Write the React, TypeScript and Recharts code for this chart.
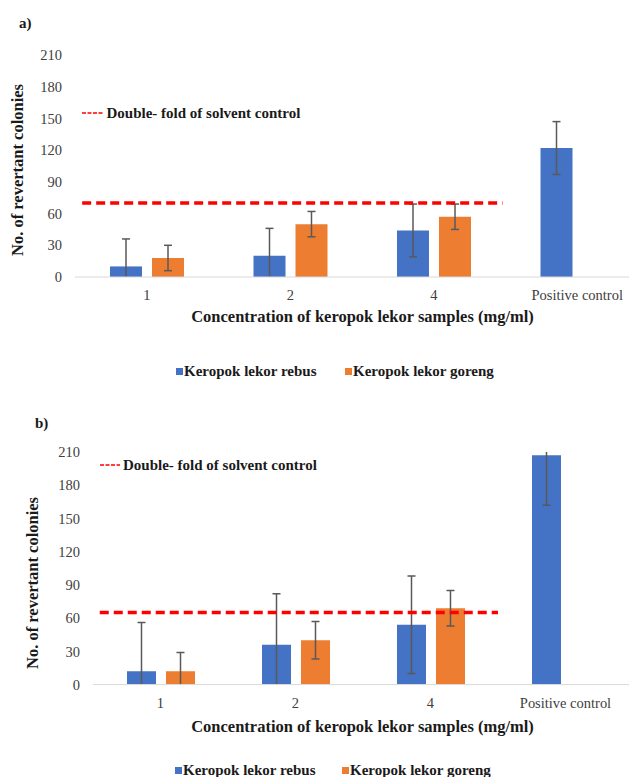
import React from 'react';
import { BarChart, Bar, XAxis, YAxis, ErrorBar, ReferenceLine } from 'recharts';

// ---------- data ----------
const categories = ['1', '2', '4', 'Positive control'];
const yTicks = [0, 30, 60, 90, 120, 150, 180, 210];
const seriesNames = ['Keropok lekor rebus', 'Keropok lekor goreng'];
const thresholdLabel = 'Double- fold of solvent control';
const xTitle = 'Concentration of keropok lekor samples (mg/ml)';
const yTitle = 'No. of revertant colonies';

// panel a)
const rebusA = [10, 20, 44, 122];
const rebusErrA = [26, 26, 25, 25];
const gorengA: (number | null)[] = [18, 50, 57, null];
const gorengErrA: (number | null)[] = [12, 12, 12, null];
const thresholdA = 70;
// threshold line extent, in category-band units from the left edge of the plot
const thresholdSpanA = [0.05, 2.98];

// panel b)
const rebusB = [12, 36, 54, 207];
const rebusErrB = [44, 46, 44, 45];
const gorengB: (number | null)[] = [12, 40, 69, null];
const gorengErrB: (number | null)[] = [17, 17, 16, null];
const thresholdB = 65;
const thresholdSpanB = [0.05, 3.0];

const BLUE = '#4472C4';
const ORANGE = '#ED7D31';
const RED = '#FF0000';
const ERR = '#595959';
const FONT = '"Liberation Serif", "Times New Roman", serif';

function buildRows(r: number[], re: number[], g: (number | null)[], ge: (number | null)[]) {
  return categories.map((c, i) => ({
    cat: c,
    rebus: r[i],
    rebusErr: re[i],
    goreng: g[i],
    gorengErr: ge[i],
  }));
}

type PanelProps = {
  id: string;
  tag: string;
  rows: any[];
  threshold: number;
  span: number[];
  L: {
    plotLeft: number; plotTop: number; plotBottom: number; band: number;
    barSize: number; barGap: number;
    tagX: number; tagY: number;
    yTitleX: number; yTitleY: number;
    thrLineX: number; thrTextX: number; thrY: number;
    xTitleX: number; xTitleY: number;
    legendY: number; legendX: number[];
  };
};

const Panel = ({ id, tag, rows, threshold, span, L }: PanelProps) => {
  const padTop = 20;
  const xAxisH = 30;
  const chartTop = L.plotTop - padTop;
  const plotW = 4 * L.band;
  const plotH = L.plotBottom - L.plotTop;
  const width = L.plotLeft + plotW;
  const height = padTop + plotH + xAxisH;
  const bold: React.CSSProperties = { fontFamily: FONT, fontWeight: 'bold', color: '#1a1a1a', whiteSpace: 'nowrap', position: 'absolute', lineHeight: 1 };
  const n = categories.length;
  const thresholdShape = (p: any) => {
    const x1 = Number(p.x1);
    const x2 = Number(p.x2);
    const bw = (x2 - x1) / n;
    return (
      <line
        x1={x1 + bw * span[0]}
        x2={x1 + bw * span[1]}
        y1={p.y1}
        y2={p.y2}
        stroke={RED}
        strokeWidth={3.5}
        strokeDasharray="9 5"
      />
    );
  };
  return (
    <>
      <style>{`.panel-${id} .recharts-errorBar, .panel-${id} .recharts-errorBars { clip-path: url(#clip-${id}); }`}</style>
      <svg width={0} height={0} style={{ position: 'absolute' }}>
        <defs>
          <clipPath id={`clip-${id}`} clipPathUnits="userSpaceOnUse">
            <rect x={L.plotLeft} y={padTop} width={plotW} height={plotH} />
          </clipPath>
        </defs>
      </svg>
      <div className={`panel-${id}`} style={{ position: 'absolute', left: 0, top: chartTop }}>
        <BarChart
          width={width}
          height={height}
          data={rows}
          margin={{ top: padTop, right: 0, bottom: 0, left: 0 }}
          barSize={L.barSize}
          barGap={L.barGap}
        >
          <XAxis
            dataKey="cat"
            interval={0}
            height={xAxisH}
            tickLine={false}
            tickSize={6}
            tickMargin={7}
            axisLine={{ stroke: '#d9d9d9', strokeWidth: 1 }}
            tick={{ fill: '#404040', fontSize: 14.5, fontFamily: FONT }}
          />
          <YAxis
            width={L.plotLeft}
            domain={[0, 210]}
            ticks={yTicks}
            allowDataOverflow
            axisLine={false}
            tickLine={false}
            tickSize={6}
            tickMargin={7}
            tick={{ fill: '#404040', fontSize: 14.5, fontFamily: FONT }}
          />
          <Bar dataKey="rebus" fill={BLUE} isAnimationActive={false}>
            <ErrorBar dataKey="rebusErr" width={4} stroke={ERR} strokeWidth={1.5} direction="y" />
          </Bar>
          <Bar dataKey="goreng" fill={ORANGE} isAnimationActive={false}>
            <ErrorBar dataKey="gorengErr" width={4} stroke={ERR} strokeWidth={1.5} direction="y" />
          </Bar>
          <ReferenceLine y={threshold} shape={thresholdShape} ifOverflow="visible" />
        </BarChart>
      </div>
      <div style={{ ...bold, fontSize: 15, left: L.tagX, top: L.tagY, transform: 'translateY(-50%)' }}>{tag}</div>
      <div
        style={{
          ...bold, fontSize: 16.5, left: L.yTitleX, top: L.yTitleY,
          transform: 'translate(-50%, -50%) rotate(-90deg)',
        }}
      >
        {yTitle}
      </div>
      <svg style={{ position: 'absolute', left: L.thrLineX, top: L.thrY - 2 }} width={L.thrTextX - L.thrLineX - 3} height={4}>
        <line x1={0} y1={2} x2={L.thrTextX - L.thrLineX - 3} y2={2} stroke={RED} strokeWidth={1.5} strokeDasharray="4 1.5" />
      </svg>
      <div style={{ ...bold, fontSize: 15, left: L.thrTextX, top: L.thrY, transform: 'translateY(-50%)' }}>{thresholdLabel}</div>
      <div style={{ ...bold, fontSize: 16.5, left: L.xTitleX, top: L.xTitleY, transform: 'translate(-50%, -50%)' }}>{xTitle}</div>
      {seriesNames.map((s, i) => (
        <React.Fragment key={s}>
          <div style={{ position: 'absolute', left: L.legendX[i], top: L.legendY - 3.5, width: 7, height: 7, background: i === 0 ? BLUE : ORANGE }} />
          <div style={{ ...bold, fontSize: 15, left: L.legendX[i] + 8, top: L.legendY, transform: 'translateY(-50%)' }}>{s}</div>
        </React.Fragment>
      ))}
    </>
  );
};

export default function App() {
  const rowsA = buildRows(rebusA, rebusErrA, gorengA, gorengErrA);
  const rowsB = buildRows(rebusB, rebusErrB, gorengB, gorengErrB);
  return (
    <div style={{ position: 'fixed', left: 0, top: 0, width: 629, height: 777, overflow: 'hidden', background: '#fff' }}>
      <Panel
        id="a"
        tag="a)"
        rows={rowsA}
        threshold={thresholdA}
        span={thresholdSpanA}
        L={{
          plotLeft: 75, plotTop: 55, plotBottom: 277, band: 143.5, barSize: 32, barGap: 10,
          tagX: 19, tagY: 23, yTitleX: 18, yTitleY: 170,
          thrLineX: 82, thrTextX: 106.5, thrY: 113,
          xTitleX: 362.5, xTitleY: 317,
          legendY: 371, legendX: [176, 345],
        }}
      />
      <Panel
        id="b"
        tag="b)"
        rows={rowsB}
        threshold={thresholdB}
        span={thresholdSpanB}
        L={{
          plotLeft: 93, plotTop: 451.7, plotBottom: 684.3, band: 135, barSize: 29, barGap: 10,
          tagX: 35, tagY: 423, yTitleX: 33, yTitleY: 583,
          thrLineX: 100, thrTextX: 123, thrY: 465,
          xTitleX: 362.5, xTitleY: 727,
          legendY: 770, legendX: [175, 342],
        }}
      />
    </div>
  );
}
